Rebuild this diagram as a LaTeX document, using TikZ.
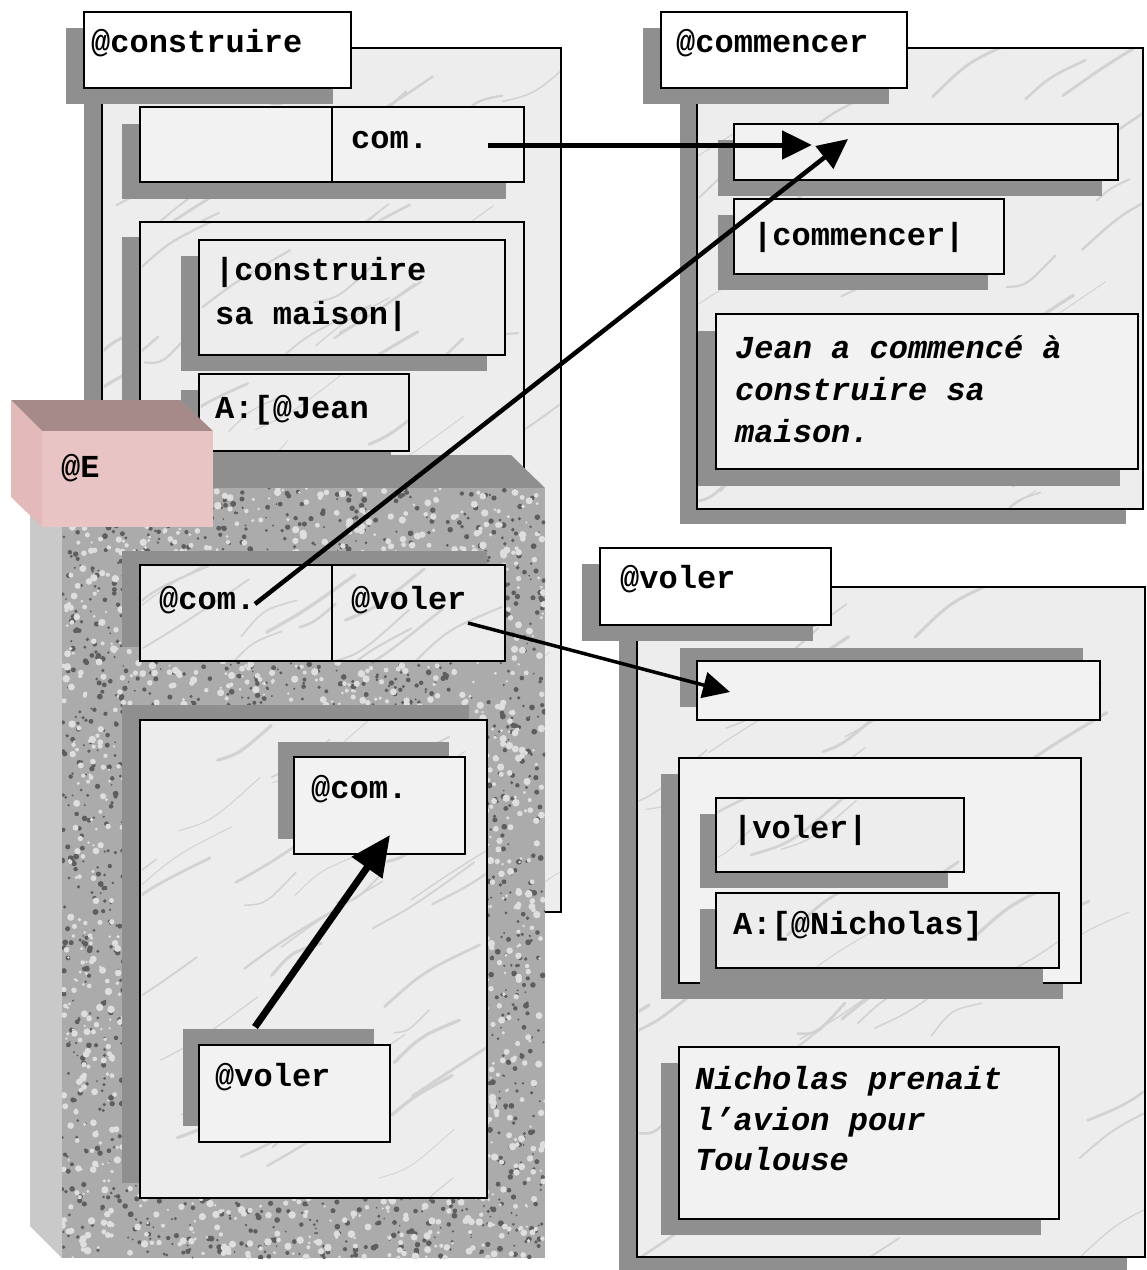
\documentclass[tikz,border=0pt]{standalone}
\usepackage{fontspec}
\setmonofont{Liberation Mono}
\usetikzlibrary{arrows.meta,calc}
\definecolor{shgray}{HTML}{8F8F8F}
\definecolor{marble}{HTML}{EDEDED}
\definecolor{marblelt}{HTML}{F2F2F2}
\definecolor{vein}{HTML}{D2D2D2}
\definecolor{pinkfront}{HTML}{E9C4C4}
\definecolor{pinktop}{HTML}{A68A8A}
\definecolor{pinkside}{HTML}{E3B9B9}
\definecolor{granleft}{HTML}{C9C9C9}
\definecolor{granbase}{HTML}{ABABAB}
\definecolor{grandark}{HTML}{5E5E5E}
\definecolor{granlight}{HTML}{DEDEDE}
\tikzset{
  panelbox/.style={draw=black, line width=2pt, inner sep=0pt, outer sep=0pt},
  lbl/.style={font=\ttfamily\bfseries\fontsize{32}{42}\selectfont, inner sep=0pt, anchor=base west},
  ilbl/.style={font=\ttfamily\bfseries\itshape\fontsize{32}{42}\selectfont, inner sep=0pt, anchor=base west},
  arr/.style={line width=#1, -{Triangle[length=30pt,width=28pt]}},
}
% name, x1, y1, x2, y2, shadow offset, fill
\newcommand\panel[7]{%
  \fill[shgray] ($(#2,#3)+(#6)$) rectangle ($(#4,#5)+(#6)$);
  \node[panelbox, fill=#7, minimum width=#4pt-#2pt, minimum height=#5pt-#3pt]
    (#1) at ({(#2+#4)/2},{(#3+#5)/2}) {};
}
% marble veins: x1,y1,x2,y2,count
\newcommand\veins[5]{%
  \begin{scope}
    \clip ({#1+1.5},{#2+1.5}) rectangle ({#3-1.5},{#4-1.5});
    \foreach \k in {1,...,#5}{
      \pgfmathsetmacro\vx{#1-40+(#3-#1)*rnd}
      \pgfmathsetmacro\vy{#2+40+(#4-#2)*rnd}
      \pgfmathsetmacro\vl{30+80*rnd}
      \pgfmathsetmacro\vw{0.8+2.6*rnd}
      \pgfmathsetmacro\vo{-14+28*rnd}
      \draw[vein, line width=\vw pt, line cap=round]
        (\vx,\vy) .. controls ({\vx+0.4*\vl},{\vy-0.25*\vl+\vo}) .. ({\vx+\vl},{\vy-0.65*\vl});
    }
  \end{scope}}
\begin{document}
\begin{tikzpicture}[x=1pt,y=-1pt]
\useasboundingbox (0,0) rectangle (1147,1270);
\pgfmathsetseed{11}

% ---------- @construire ----------
\panel{Abig}{102}{48}{561}{912}{-18,16}{marble}
\veins{102}{48}{561}{912}{60}
\panel{Atitle}{84}{12}{351}{88}{-18,16}{white}
\panel{Arow}{140}{107}{524}{182}{-18,17}{marblelt}
\draw[line width=2pt] (332,107) -- (332,182);
\panel{Ainner}{140}{222}{524}{560}{-18,15}{marble}
\veins{140}{222}{524}{560}{18}
\panel{Aconst}{199}{240}{505}{355}{-18,16}{marble}
\veins{199}{240}{505}{355}{8}
\panel{Ajean}{199}{374}{409}{451}{-18,16}{marble}
\veins{199}{374}{409}{451}{5}
\node[lbl] (tAtitle) at (91,52) {@construire};
\node[lbl] (tAcom) at (351,148) {com.};
\node[lbl] (tAc1) at (215,280) {|construire};
\node[lbl] (tAc2) at (215,324) {sa maison|};
\node[lbl] (tAjean) at (215,418) {A:[@Jean};

% ---------- @commencer ----------
\panel{Bbig}{697}{48}{1143}{509}{-17,15}{marble}
\veins{697}{48}{1143}{509}{40}
\panel{Btitle}{661}{12}{907}{88}{-18,16}{white}
\panel{Brow}{734}{124}{1118}{180}{-16,16}{marblelt}
\panel{Bcomm}{734}{199}{1004}{274}{-16,16}{marblelt}
\panel{Bjean}{716}{314}{1138}{469}{-18,17}{marblelt}
\node[lbl] (tBtitle) at (676,52) {@commencer};
\node[lbl] (tBcomm) at (753,245) {|commencer|};
\node[ilbl] (tBj1) at (735,358) {Jean a commencé à};
\node[ilbl] (tBj2) at (735,400) {construire sa};
\node[ilbl] (tBj3) at (735,442) {maison.};

% ---------- @voler ----------
\panel{Cbig}{637}{587}{1145}{1257}{-18,16}{marble}
\veins{637}{587}{1145}{1257}{50}
\panel{Ctitle}{600}{548}{831}{625}{-18,16}{white}
\panel{Crow}{697}{661}{1100}{720}{-17,-13}{marblelt}
\panel{Cinner}{679}{758}{1081}{983}{-18,16}{marblelt}
\panel{Cvoler}{716}{798}{964}{872}{-16,16}{marble}
\veins{716}{798}{964}{872}{5}
\panel{Cnich}{716}{893}{1059}{968}{-16,16}{marble}
\veins{716}{893}{1059}{968}{7}
\panel{Ctext}{679}{1047}{1059}{1219}{-18,16}{marblelt}
\node[lbl] (tCtitle) at (620,588) {@voler};
\node[lbl] (tCvoler) at (733,838) {|voler|};
\node[lbl] (tCnich) at (733,934) {A:[@Nicholas]};
\node[ilbl] (tCt1) at (695,1089) {Nicholas prenait};
\node[ilbl] (tCt2) at (695,1130) {l’avion pour};
\node[ilbl] (tCt3) at (695,1170) {Toulouse};

% ---------- granite box @E ----------
\fill[shgray] (30,455) -- (511,455) -- (545,488) -- (62,488) -- cycle;
\fill[granleft] (30,455) -- (62,488) -- (62,1258) -- (30,1226) -- cycle;
\begin{scope}
  \clip (62,488) rectangle (545,1258);
  \fill[granbase] (62,488) rectangle (545,1258);
  \foreach \i in {1,...,2600}{
    \pgfmathsetmacro\xx{62+483*rnd}
    \pgfmathsetmacro\yy{488+770*rnd}
    \pgfmathsetmacro\rr{0.9+2.1*rnd}
    \fill[grandark] (\xx,\yy) circle[radius=\rr pt];
  }
  \foreach \i in {1,...,2200}{
    \pgfmathsetmacro\xx{62+483*rnd}
    \pgfmathsetmacro\yy{488+770*rnd}
    \pgfmathsetmacro\rr{1.2+2.6*rnd}
    \fill[granlight] (\xx,\yy) circle[radius=\rr pt];
  }
\end{scope}
\panel{Erow}{140}{565}{505}{661}{-18,-14}{marble}
\veins{140}{565}{505}{661}{12}
\draw[line width=2pt] (332,565) -- (332,661);
\panel{Einner}{140}{720}{487}{1198}{-18,-15}{marble}
\veins{140}{720}{487}{1198}{40}
\panel{Ecom}{294}{757}{465}{854}{-16,-15}{marblelt}
\panel{Evoler}{199}{1045}{390}{1142}{-16,-16}{marblelt}
\node[lbl] (tEcom) at (159,609) {@com.};
\node[lbl] (tEvoler) at (351,609) {@voler};
\node[lbl] (tEcom2) at (311,798) {@com.};
\node[lbl] (tEvoler2) at (215,1086) {@voler};

% ---------- pink box ----------
\fill[pinktop] (11,400) -- (180,400) -- (213,431) -- (42,431) -- cycle;
\fill[pinkside] (11,400) -- (42,431) -- (42,527) -- (11,497) -- cycle;
\node[fill=pinkfront, inner sep=0pt, minimum width=171pt, minimum height=96pt] (Ebox) at (127.5,479) {};
\node[lbl] (tE) at (61,477) {@E};

% ---------- arrows ----------
\coordinate (a1s) at (488,145);
\coordinate (a1e) at (812,145);
\coordinate (a2s) at (255,604);
\coordinate (a2e) at (848,139);
\coordinate (a3s) at (468,623);
\coordinate (a3e) at (730,692);
\coordinate (a4s) at (255,1027);
\coordinate (a4e) at (390,835);
\draw[arr=5pt] (a1s) -- (a1e);
\draw[arr=4.5pt] (a2s) -- (a2e);
\draw[line width=3.5pt, -{Triangle[length=27pt,width=26pt]}] (a3s) -- (a3e);
\draw[line width=7pt, -{Triangle[length=40pt,width=36pt]}] (a4s) -- (a4e);
\end{tikzpicture}
\end{document}
